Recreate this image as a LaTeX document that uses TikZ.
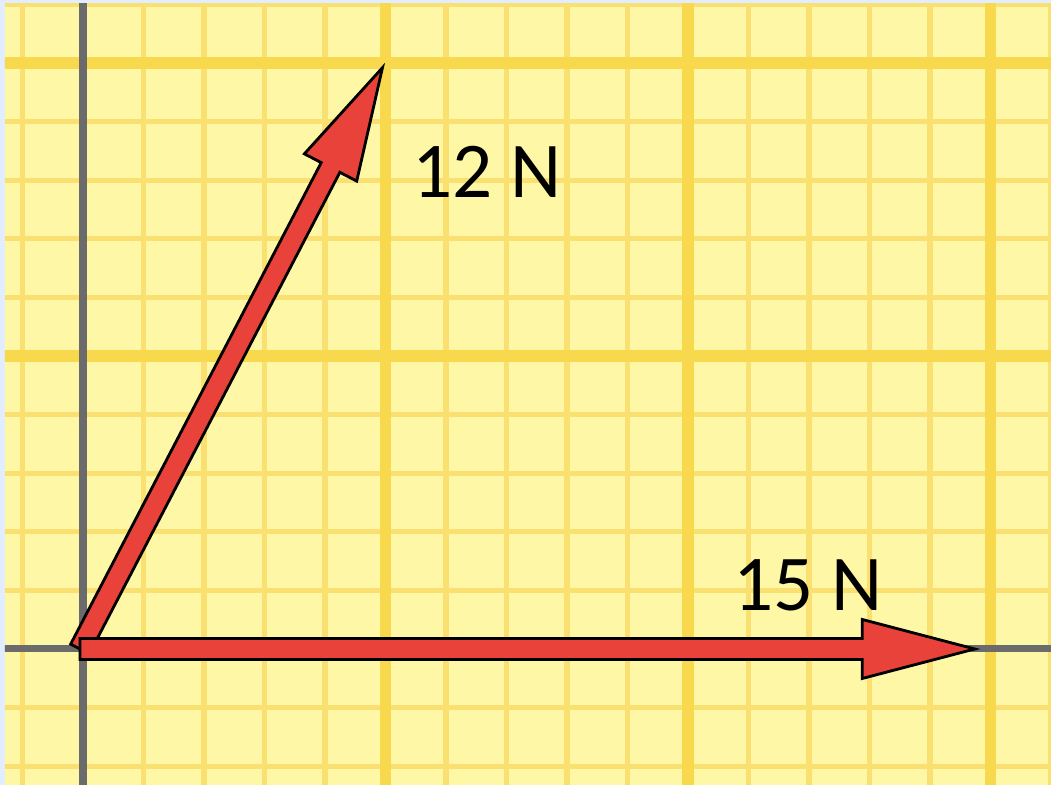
\documentclass[tikz,border=0pt]{standalone}
\usepackage{fontspec}
\setmainfont{Carlito}
\usetikzlibrary{calc}
\definecolor{fondo}{HTML}{FEF8A6}
\definecolor{rejilla}{HTML}{F9E070}
\definecolor{rejillaf}{HTML}{F8D84C}
\definecolor{eje}{HTML}{6B6B6B}
\definecolor{borde}{HTML}{E2EEFF}
\definecolor{rojo}{HTML}{E8423A}
\tikzset{
  vector/.style={fill=rojo,draw=black,line width=1.6pt,line join=miter},
  etiqueta/.style={font=\fontsize{45}{50}\selectfont,inner sep=0pt},
  fina/.style={rejilla,line width=3pt},
  gruesa/.style={rejillaf,line width=6.5pt}
}
\newcommand{\flecha}[2]{%
  \coordinate (base) at ($(#2)!2.25cm!(#1)$);
  \draw[vector] ($(#1)!0.21cm!90:(#2)$) -- ($(base)!0.21cm!-90:(#1)$)
    -- ($(base)!0.59cm!-90:(#1)$) -- (#2)
    -- ($(base)!0.59cm!90:(#1)$) -- ($(base)!0.21cm!90:(#1)$)
    -- ($(#1)!0.21cm!-90:(#2)$) -- cycle;}

\begin{document}
\begin{tikzpicture}[x=1.21cm,y=1.172cm]
  \fill[borde] (-1.372,-2.321) rectangle (16,11.075);
  \fill[fondo] (-1.29,-2.321) rectangle (16,11.007);
  \begin{scope}
    \clip (-1.29,-2.321) rectangle (16,11.007);
    \foreach \x in {-1,...,16} \draw[fina] (\x,-2.4) -- (\x,11.1);
    \foreach \y in {-2,...,11} \draw[fina] (-1.4,\y) -- (16.1,\y);
    \foreach \x in {5,10,15} \draw[gruesa] (\x,-2.4) -- (\x,11.1);
    \foreach \y in {5,10} \draw[gruesa] (-1.4,\y) -- (16.1,\y);
    \draw[eje,line width=4pt] (0,-2.4) -- (0,11.1) (-1.4,0) -- (16.1,0);
  \end{scope}
  \coordinate (O) at (-0.05,0);
  \coordinate (F12) at (4.95,9.92);
  \coordinate (F15) at (14.74,0);
  \flecha{O}{F12}
  \flecha{O}{F15}
  \node[etiqueta] (f12) at (6.68,8.14) {12 N};
  \node[etiqueta] (f15) at (11.98,1.09) {15 N};
\end{tikzpicture}
\end{document}
